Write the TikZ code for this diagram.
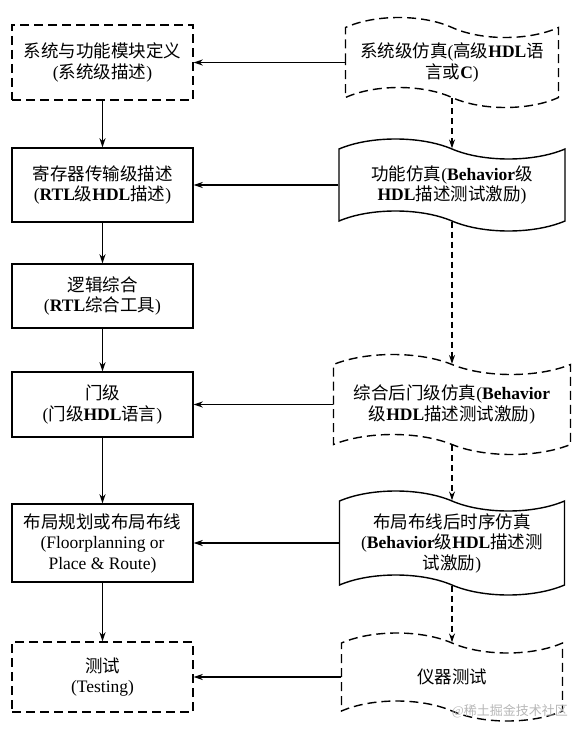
\documentclass[tikz,border=0pt]{standalone}
\usepackage{fontspec}
\setmainfont{Liberation Serif}
\newfontfamily\cjk{Noto Sans CJK SC}
\newcommand\zhs[1]{{\cjk #1}}
\usetikzlibrary{shapes.symbols,arrows.meta}
\begin{document}
\begin{tikzpicture}[x=1pt,y=-1pt,
  every node/.style={font=\fontsize{17.5}{20.5}\selectfont, align=center, inner sep=0pt},
  boxnode/.style={draw, line width=1.4pt, minimum width=181pt},
  dashbox/.style={boxnode, dash pattern=on 9pt off 5pt},
  tapenode/.style={draw, line width=1.4pt, shape=tape, tape bend top=out and in, tape bend bottom=out and in, tape bend height=20pt},
  dashtape/.style={tapenode, dash pattern=on 9pt off 5pt},
  arr/.style={line width=1.4pt, -{Stealth[length=9pt,width=6pt]}},
  darr/.style={arr, dash pattern=on 6pt off 4pt},
  wmark/.style={font=\fontsize{13}{13}\selectfont, text=black!28}]
\useasboundingbox (0,0) rectangle (579,733);
\fill[white] (0,0) rectangle (579,733);
% left column
\node[dashbox, minimum height=75pt] (b1) at (102.5,62.5) {\zhs{系统与功能模块定义}\\(\zhs{系统级描述})};
\node[boxnode, minimum height=74pt] (b2) at (102.5,185) {\zhs{寄存器传输级描述}\\(\textbf{RTL}\zhs{级}\textbf{HDL}\zhs{描述})};
\node[boxnode, minimum height=64pt] (b3) at (102.5,296) {\zhs{逻辑综合}\\(\textbf{RTL}\zhs{综合工具})};
\node[boxnode, minimum height=65pt] (b4) at (102.5,404.5) {\zhs{门级}\\(\zhs{门级}\textbf{HDL}\zhs{语言})};
\node[boxnode, minimum height=78pt] (b5) at (102.5,543) {\zhs{布局规划或布局布线}\\(Floorplanning or\\Place \& Route)};
\node[dashbox, minimum height=70pt] (b6) at (102.5,677) {\zhs{测试}\\(Testing)};
% right column
\node[dashtape, minimum width=213pt, minimum height=90pt] (s1) at (452,62.5) {\zhs{系统级仿真}(\zhs{高级}\textbf{HDL}\zhs{语}\\\zhs{言或}\textbf{C})};
\node[tapenode, minimum width=226pt, minimum height=92pt] (s2) at (452,185) {\zhs{功能仿真}(\textbf{Behavior}\zhs{级}\\\textbf{HDL}\zhs{描述测试激励})};
\node[dashtape, minimum width=237pt, minimum height=100pt] (s4) at (452,404.5) {\zhs{综合后门级仿真}(\textbf{Behavior}\\\zhs{级}\textbf{HDL}\zhs{描述测试激励})};
\node[tapenode, minimum width=225pt, minimum height=104pt] (s5) at (452,543) {\zhs{布局布线后时序仿真}\\(\textbf{Behavior}\zhs{级}\textbf{HDL}\zhs{描述测}\\\zhs{试激励})};
\node[dashtape, minimum width=221pt, minimum height=88pt] (s6) at (452,677) {\zhs{仪器测试}};
% left flow
\draw[arr] (b1) -- (b2);
\draw[arr] (b2) -- (b3);
\draw[arr] (b3) -- (b4);
\draw[arr] (b4) -- (b5);
\draw[arr] (b5) -- (b6);
% right flow
\draw[darr] (s1.south) -- (s2.north);
\draw[darr] (s2.south) -- (s4.north);
\draw[darr] (s4.south) -- (s5.north);
\draw[darr] (s5.south) -- (s6.north);
% cross arrows
\draw[arr] (s1.west) -- (b1.east);
\draw[arr] (s2.west) -- (b2.east);
\draw[arr] (s4.west) -- (b4.east);
\draw[arr] (s5.west) -- (b5.east);
\draw[arr] (s6.west) -- (b6.east);
\node[wmark, anchor=east] (wm) at (568,711) {@\zhs{稀土掘金技术社区}};
\end{tikzpicture}
\end{document}
